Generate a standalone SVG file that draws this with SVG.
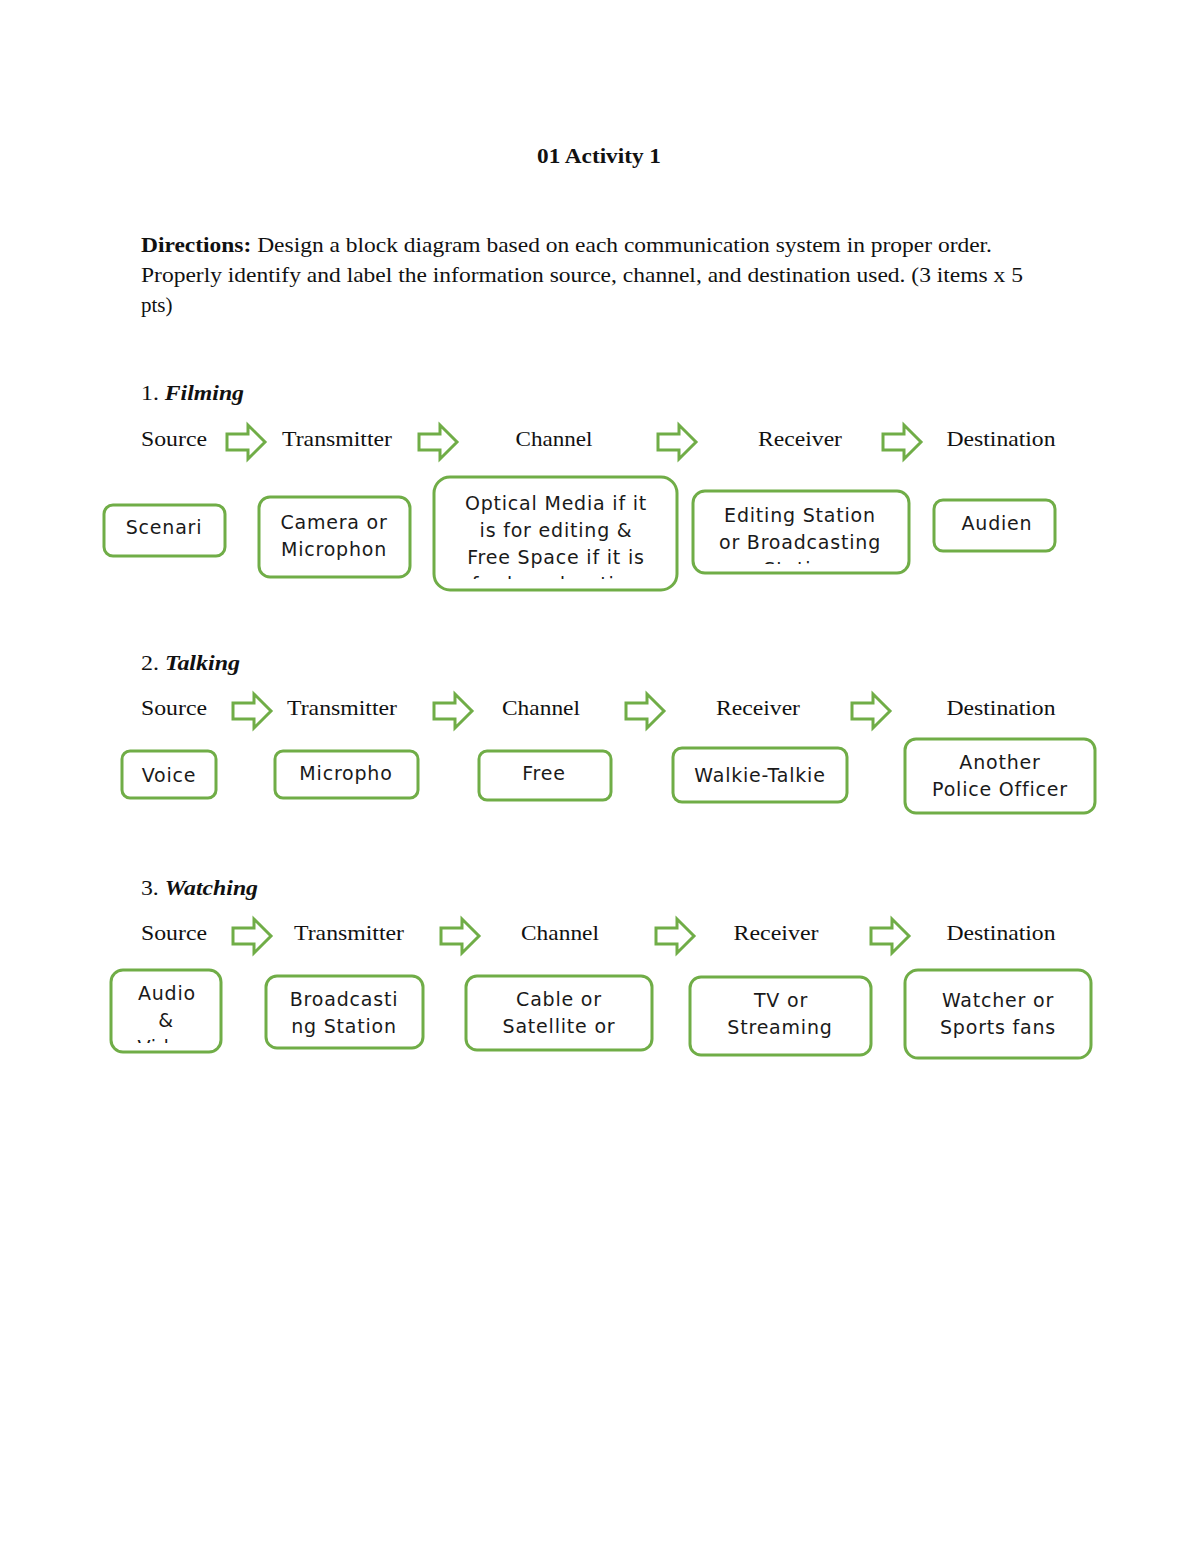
<svg xmlns="http://www.w3.org/2000/svg" xmlns:xlink="http://www.w3.org/1999/xlink" width="1200" height="1553" viewBox="0 0 1200 1553">
<style>
.bg{fill:#ffffff}
.ser{font-family:"Liberation Serif","Times New Roman",serif;fill:#111}
.title{font-size:22px;font-weight:bold;text-anchor:middle}
.dir{font-size:21px}
.sec{font-size:21px}
.hdr{font-size:21px;text-anchor:middle}
.box{fill:#ffffff;stroke:#70AD47;stroke-width:3}
.bt{font-family:"DejaVu Sans","Verdana",sans-serif;font-size:19px;letter-spacing:0.8px;fill:#1a1a1a;text-anchor:middle}
.arr{fill:#ffffff;stroke:#70AD47;stroke-width:3;stroke-linejoin:miter}
</style>
<defs>
<path id="arrow" class="arr" d="M0 -8 H21 V-17 L38 0 L21 17 V8 H0 Z"/>
<clipPath id="c1"><rect x="436" y="479" width="240" height="100"/></clipPath>
<clipPath id="c2"><rect x="695" y="493" width="212" height="71"/></clipPath>
<clipPath id="c3"><rect x="113" y="972" width="106" height="71"/></clipPath>
</defs>
<rect class="bg" x="0" y="0" width="1200" height="1553"/>

<g id="heading">
<text class="ser title" x="599" y="163" textLength="124" lengthAdjust="spacingAndGlyphs">01 Activity 1</text>
<text class="ser dir" x="141" y="252" textLength="851" lengthAdjust="spacingAndGlyphs"><tspan font-weight="bold">Directions:</tspan> Design a block diagram based on each communication system in proper order.</text>
<text class="ser dir" x="141" y="282" textLength="882" lengthAdjust="spacingAndGlyphs">Properly identify and label the information source, channel, and destination used. (3 items x 5</text>
<text class="ser dir" x="141" y="312">pts)</text>
</g>

<g id="section-1">
<text class="ser sec" x="141" y="400" textLength="103" lengthAdjust="spacingAndGlyphs">1. <tspan font-weight="bold" font-style="italic">Filming</tspan></text>
<text class="ser hdr" x="174" y="446" textLength="66" lengthAdjust="spacingAndGlyphs">Source</text>
<text class="ser hdr" x="337" y="446" textLength="110" lengthAdjust="spacingAndGlyphs">Transmitter</text>
<text class="ser hdr" x="554" y="446" textLength="77" lengthAdjust="spacingAndGlyphs">Channel</text>
<text class="ser hdr" x="800" y="446" textLength="84" lengthAdjust="spacingAndGlyphs">Receiver</text>
<text class="ser hdr" x="1001" y="446" textLength="109" lengthAdjust="spacingAndGlyphs">Destination</text>
</g>
<g id="section-2">
<text class="ser sec" x="141" y="670" textLength="99" lengthAdjust="spacingAndGlyphs">2. <tspan font-weight="bold" font-style="italic">Talking</tspan></text>
<text class="ser hdr" x="174" y="715" textLength="66" lengthAdjust="spacingAndGlyphs">Source</text>
<text class="ser hdr" x="342" y="715" textLength="110" lengthAdjust="spacingAndGlyphs">Transmitter</text>
<text class="ser hdr" x="541" y="715" textLength="78" lengthAdjust="spacingAndGlyphs">Channel</text>
<text class="ser hdr" x="758" y="715" textLength="84" lengthAdjust="spacingAndGlyphs">Receiver</text>
<text class="ser hdr" x="1001" y="715" textLength="109" lengthAdjust="spacingAndGlyphs">Destination</text>
</g>
<g id="section-3">
<text class="ser sec" x="141" y="895" textLength="117" lengthAdjust="spacingAndGlyphs">3. <tspan font-weight="bold" font-style="italic">Watching</tspan></text>
<text class="ser hdr" x="174" y="940" textLength="66" lengthAdjust="spacingAndGlyphs">Source</text>
<text class="ser hdr" x="349" y="940" textLength="110" lengthAdjust="spacingAndGlyphs">Transmitter</text>
<text class="ser hdr" x="560" y="940" textLength="78" lengthAdjust="spacingAndGlyphs">Channel</text>
<text class="ser hdr" x="776" y="940" textLength="85" lengthAdjust="spacingAndGlyphs">Receiver</text>
<text class="ser hdr" x="1001" y="940" textLength="109" lengthAdjust="spacingAndGlyphs">Destination</text>
</g>

<g id="connectors">
<use xlink:href="#arrow" href="#arrow" transform="translate(227 442)"/>
<use xlink:href="#arrow" href="#arrow" transform="translate(419 442)"/>
<use xlink:href="#arrow" href="#arrow" transform="translate(658 442)"/>
<use xlink:href="#arrow" href="#arrow" transform="translate(883 442)"/>
<use xlink:href="#arrow" href="#arrow" transform="translate(233 711)"/>
<use xlink:href="#arrow" href="#arrow" transform="translate(434 711)"/>
<use xlink:href="#arrow" href="#arrow" transform="translate(626 711)"/>
<use xlink:href="#arrow" href="#arrow" transform="translate(852 711)"/>
<use xlink:href="#arrow" href="#arrow" transform="translate(233 936)"/>
<use xlink:href="#arrow" href="#arrow" transform="translate(441 936)"/>
<use xlink:href="#arrow" href="#arrow" transform="translate(656 936)"/>
<use xlink:href="#arrow" href="#arrow" transform="translate(871 936)"/>
</g>

<g id="n1-source"><rect class="box" x="104" y="505" width="121" height="51" rx="9"/><text class="bt" x="164" y="534">Scenari</text></g>
<g id="n1-transmitter"><rect class="box" x="259" y="497" width="151" height="80" rx="11"/><text class="bt" x="334" y="529">Camera or</text><text class="bt" x="334" y="556">Microphon</text></g>
<g id="n1-channel"><rect class="box" x="434" y="477" width="243" height="113" rx="16"/><text class="bt" x="556" y="510">Optical Media if it</text><text class="bt" x="556" y="537">is for editing &amp;</text><text class="bt" x="556" y="564">Free Space if it is</text><text class="bt" x="556" y="591" clip-path="url(#c1)">for broadcasting</text></g>
<g id="n1-receiver"><rect class="box" x="693" y="491" width="216" height="82" rx="12"/><text class="bt" x="800" y="522">Editing Station</text><text class="bt" x="800" y="549">or Broadcasting</text><text class="bt" x="800" y="576" clip-path="url(#c2)">Station</text></g>
<g id="n1-destination"><rect class="box" x="934" y="500" width="121" height="51" rx="9"/><text class="bt" x="997" y="530">Audien</text></g>

<g id="n2-source"><rect class="box" x="122" y="751" width="94" height="47" rx="8"/><text class="bt" x="169" y="782">Voice</text></g>
<g id="n2-transmitter"><rect class="box" x="275" y="751" width="143" height="47" rx="8"/><text class="bt" x="346" y="780">Micropho</text></g>
<g id="n2-channel"><rect class="box" x="479" y="751" width="132" height="49" rx="8"/><text class="bt" x="544" y="780">Free</text></g>
<g id="n2-receiver"><rect class="box" x="673" y="748" width="174" height="54" rx="9"/><text class="bt" x="760" y="782">Walkie-Talkie</text></g>
<g id="n2-destination"><rect class="box" x="905" y="739" width="190" height="74" rx="11"/><text class="bt" x="1000" y="769">Another</text><text class="bt" x="1000" y="796">Police Officer</text></g>

<g id="n3-source"><rect class="box" x="111" y="970" width="110" height="82" rx="12"/><text class="bt" x="167" y="1000">Audio</text><text class="bt" x="166" y="1027">&amp;</text><text class="bt" x="166" y="1054" clip-path="url(#c3)">Video</text></g>
<g id="n3-transmitter"><rect class="box" x="266" y="976" width="157" height="72" rx="11"/><text class="bt" x="344" y="1006">Broadcasti</text><text class="bt" x="344" y="1033">ng Station</text></g>
<g id="n3-channel"><rect class="box" x="466" y="976" width="186" height="74" rx="11"/><text class="bt" x="559" y="1006">Cable or</text><text class="bt" x="559" y="1033">Satellite or</text></g>
<g id="n3-receiver"><rect class="box" x="690" y="977" width="181" height="78" rx="11"/><text class="bt" x="781" y="1007">TV or</text><text class="bt" x="780" y="1034">Streaming</text></g>
<g id="n3-destination"><rect class="box" x="905" y="970" width="186" height="88" rx="13"/><text class="bt" x="998" y="1007">Watcher or</text><text class="bt" x="998" y="1034">Sports fans</text></g>
</svg>
